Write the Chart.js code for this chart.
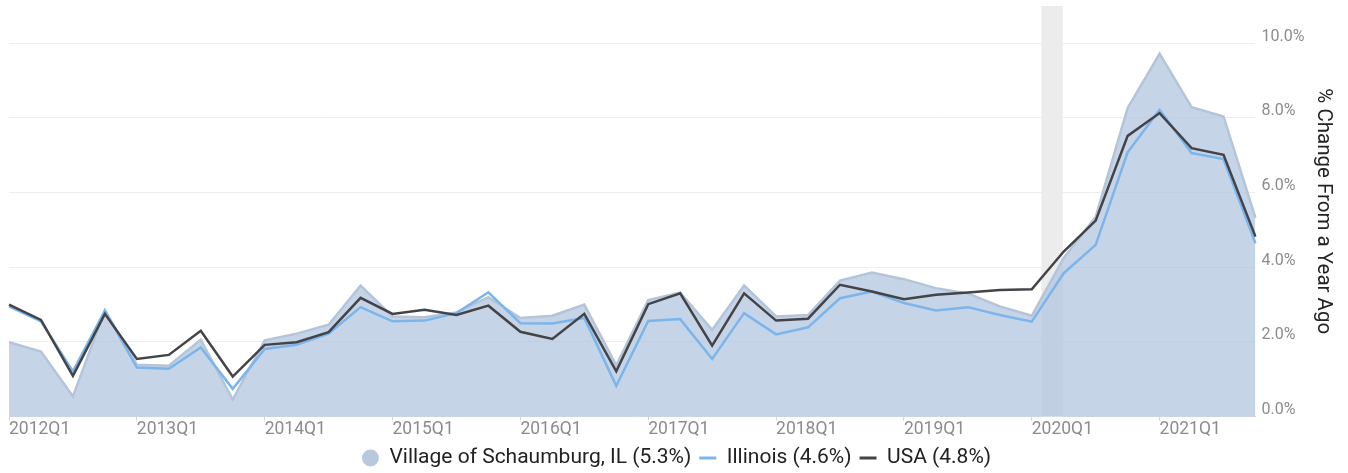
<!DOCTYPE html>
<html>
<head>
<meta charset="utf-8">
<script src="https://cdn.jsdelivr.net/npm/chart.js@4"></script>
<style>
  html, body { margin: 0; padding: 0; background: #ffffff; }
  #wrap { width: 1348px; height: 473px; }
</style>
</head>
<body>
<div id="wrap"><canvas id="c" width="1348" height="473"></canvas></div>
<script>
// ---- Data (quarterly, 2012Q1 .. 2021Q4) ----
const categories = [];
for (let y = 2012; y <= 2021; y++) { for (let q = 1; q <= 4; q++) categories.push(y + 'Q' + q); }

const villageValues = [1.99, 1.74, 0.54, 2.84, 1.39, 1.36, 2.06, 0.45,
                       2.04, 2.22, 2.46, 3.51, 2.68, 2.66, 2.79, 3.20,
                       2.64, 2.70, 3.00, 1.37, 3.12, 3.32, 2.32, 3.51,
                       2.68, 2.72, 3.64, 3.86, 3.68, 3.44, 3.30, 2.95,
                       2.70, 4.25, 5.35, 8.27, 9.72, 8.29, 8.04, 5.32];
const illinoisValues = [2.95, 2.55, 1.21, 2.84, 1.31, 1.28, 1.85, 0.74,
                        1.81, 1.92, 2.22, 2.93, 2.55, 2.57, 2.77, 3.33,
                        2.50, 2.49, 2.64, 0.82, 2.56, 2.61, 1.54, 2.77,
                        2.20, 2.39, 3.17, 3.35, 3.04, 2.84, 2.93, 2.72,
                        2.54, 3.84, 4.60, 7.08, 8.22, 7.06, 6.90, 4.64];
const usaValues = [3.00, 2.59, 1.09, 2.75, 1.54, 1.65, 2.30, 1.07,
                   1.92, 1.99, 2.26, 3.18, 2.75, 2.86, 2.72, 2.97,
                   2.27, 2.08, 2.75, 1.21, 3.01, 3.30, 1.90, 3.30,
                   2.57, 2.62, 3.53, 3.35, 3.14, 3.26, 3.32, 3.39,
                   3.41, 4.42, 5.25, 7.52, 8.13, 7.19, 7.01, 4.82];

const seriesNames = ['Village of Schaumburg, IL', 'Illinois', 'USA'];
const yTickValues = [0, 2, 4, 6, 8, 10];
const yMin = 0, yMax = 11;
// recession shading, in category-index units (Feb 2020 .. Apr 2020)
const recessionStart = 32.3;
const recessionEnd = 32.97;

const last = a => a[a.length - 1];
const withLatest = (name, arr) => name + ' (' + last(arr).toFixed(1) + '%)';

const recessionPlugin = {
  id: 'recession',
  beforeDatasetsDraw(chart) {
    const { ctx, chartArea, scales } = chart;
    const x1 = scales.x.getPixelForValue(recessionStart);
    const x2 = scales.x.getPixelForValue(recessionEnd);
    ctx.save();
    ctx.fillStyle = '#ececec';
    ctx.fillRect(x1, chartArea.top, x2 - x1, chartArea.bottom - chartArea.top);
    ctx.restore();
  }
};

const legendStyle = [
  { pointStyle: 'circle', fillStyle: '#b9c9dd', strokeStyle: '#b9c9dd', lineWidth: 0 },
  { pointStyle: 'line', fillStyle: '#7cb5ec', strokeStyle: '#7cb5ec', lineWidth: 3 },
  { pointStyle: 'line', fillStyle: '#434348', strokeStyle: '#434348', lineWidth: 3 }
];

new Chart(document.getElementById('c'), {
  type: 'line',
  data: {
    labels: categories,
    datasets: [
      {
        label: withLatest(seriesNames[0], villageValues),
        data: villageValues,
        borderColor: '#b4c5da',
        backgroundColor: 'rgba(176,196,222,0.72)',
        borderWidth: 2.5,
        fill: 'origin',
        pointRadius: 0,
        tension: 0,
        order: 3
      },
      {
        label: withLatest(seriesNames[1], illinoisValues),
        data: illinoisValues,
        borderColor: '#7cb5ec',
        borderWidth: 2.5,
        fill: false,
        pointRadius: 0,
        tension: 0,
        order: 2
      },
      {
        label: withLatest(seriesNames[2], usaValues),
        data: usaValues,
        borderColor: '#434348',
        borderWidth: 2.5,
        fill: false,
        pointRadius: 0,
        tension: 0,
        order: 1
      }
    ]
  },
  options: {
    responsive: false,
    animation: false,
    layout: { padding: { left: 9, right: 4, top: 6, bottom: -5.5 } },
    plugins: {
      tooltip: { enabled: false },
      legend: {
        position: 'bottom',
        labels: {
          usePointStyle: true,
          boxWidth: 17,
          boxHeight: 12,
          padding: 8,
          color: '#222222',
          font: { family: 'Roboto', size: 21 },
          generateLabels: chart => chart.data.datasets.map((ds, i) => ({
            text: ds.label,
            datasetIndex: i,
            hidden: false,
            fontColor: '#222222',
            ...legendStyle[i]
          }))
        }
      }
    },
    scales: {
      x: {
        type: 'category',
        offset: false,
        afterBuildTicks: scale => {
          scale.ticks = scale.ticks.filter(t => t.value % 4 === 0);
        },
        grid: { drawOnChartArea: false, drawTicks: true, tickLength: 4, color: '#ccd6eb' },
        border: { display: true, color: '#ccd6eb', width: 1 },
        ticks: {
          autoSkip: false,
          maxRotation: 0,
          minRotation: 0,
          align: 'start',
          padding: 0,
          color: '#8c8c8c',
          font: { family: 'Roboto', size: 17.5, lineHeight: 1.0857 }
        }
      },
      y: {
        position: 'right',
        min: yMin,
        max: yMax,
        afterBuildTicks: scale => {
          const t = [];
          for (let v = yMin; v <= yMax; v++) t.push({ value: v });
          scale.ticks = t;
        },
        afterFit: scale => { scale.paddingTop = 0; },
        grid: { drawTicks: false, color: '#eeeeee', lineWidth: 1 },
        border: { display: false },
        ticks: {
          padding: 6,
          labelOffset: -6.5,
          color: '#8c8c8c',
          font: { family: 'Roboto', size: 16 },
          callback: v => yTickValues.includes(v) ? v.toFixed(1) + '%' : null
        },
        title: {
          display: true,
          text: '% Change From a Year Ago',
          color: '#222222',
          font: { family: 'Roboto', size: 20.5 },
          padding: { top: 9, bottom: 0 }
        }
      }
    }
  },
  plugins: [recessionPlugin]
});
</script>
</body>
</html>
